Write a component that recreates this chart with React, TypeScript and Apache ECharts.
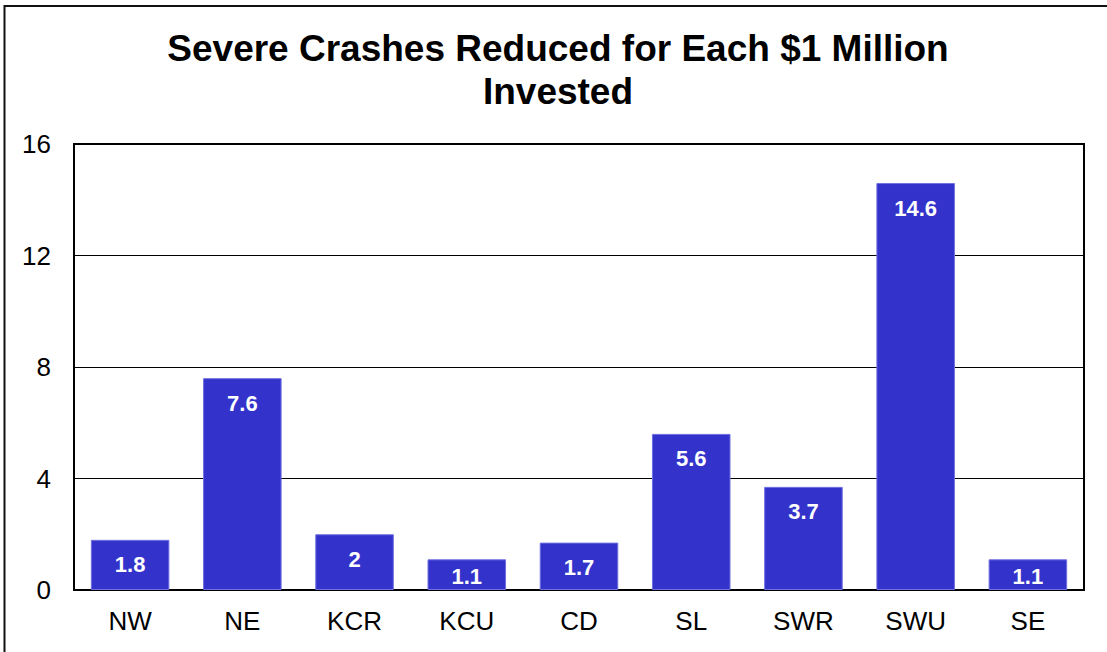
import React, { useEffect, useRef } from "react";
import * as echarts from "echarts";

const categories = ["NW", "NE", "KCR", "KCU", "CD", "SL", "SWR", "SWU", "SE"];
const values = [1.8, 7.6, 2, 1.1, 1.7, 5.6, 3.7, 14.6, 1.1];
const titleText = "Severe Crashes Reduced for Each $1 Million\nInvested";
const yTicks = { min: 0, max: 16, interval: 4 };

const FONT = "'Liberation Sans', Arial, sans-serif";

export default function App() {
  const ref = useRef<HTMLDivElement>(null);
  useEffect(() => {
    document.body.style.margin = "0";
    const chart = echarts.init(ref.current!, null, { renderer: "svg" });
    chart.setOption({
      animation: false,
      backgroundColor: "#ffffff",
      title: {
        text: titleText,
        left: 558,
        textAlign: "center",
        top: 27,
        padding: 0,
        textStyle: {
          fontFamily: FONT,
          fontSize: 37,
          fontWeight: "bold",
          color: "#000",
          lineHeight: 43,
        },
      },
      graphic: [
        {
          type: "rect",
          shape: { x: 4.5, y: 6, width: 1200, height: 800 },
          style: { fill: "none", stroke: "#111", lineWidth: 2 },
          silent: true,
        },
      ],
      grid: {
        left: 74,
        right: 23,
        top: 144,
        bottom: 62,
        show: true,
        borderColor: "#000",
        borderWidth: 2,
        backgroundColor: "transparent",
        containLabel: false,
      },
      xAxis: {
        type: "category",
        data: categories,
        axisLine: { lineStyle: { color: "#000", width: 2 } },
        axisTick: { show: false },
        axisLabel: {
          fontFamily: FONT,
          fontSize: 26,
          color: "#000",
          margin: 18,
        },
      },
      yAxis: {
        type: "value",
        min: yTicks.min,
        max: yTicks.max,
        interval: yTicks.interval,
        axisLine: { show: false },
        axisTick: { show: false },
        splitLine: { lineStyle: { color: "#000", width: 1 } },
        axisLabel: {
          fontFamily: FONT,
          fontSize: 26,
          color: "#000",
          margin: 23,
        },
      },
      series: [
        {
          type: "bar",
          data: values.map((v) => ({
            value: v,
            label: v < 1.5 ? { distance: 6 } : undefined,
          })),
          barCategoryGap: "30%",
          itemStyle: {
            color: "#3333CC",
            borderColor: "#7070e0",
            borderWidth: 1,
          },
          label: {
            show: true,
            position: "insideTop",
            distance: 14,
            color: "#fff",
            fontFamily: FONT,
            fontSize: 22,
            fontWeight: "bold",
          },
        },
      ],
    });
    return () => chart.dispose();
  }, []);
  return (
    <div
      ref={ref}
      style={{ position: "absolute", left: 0, top: 0, width: 1107, height: 652 }}
    />
  );
}
